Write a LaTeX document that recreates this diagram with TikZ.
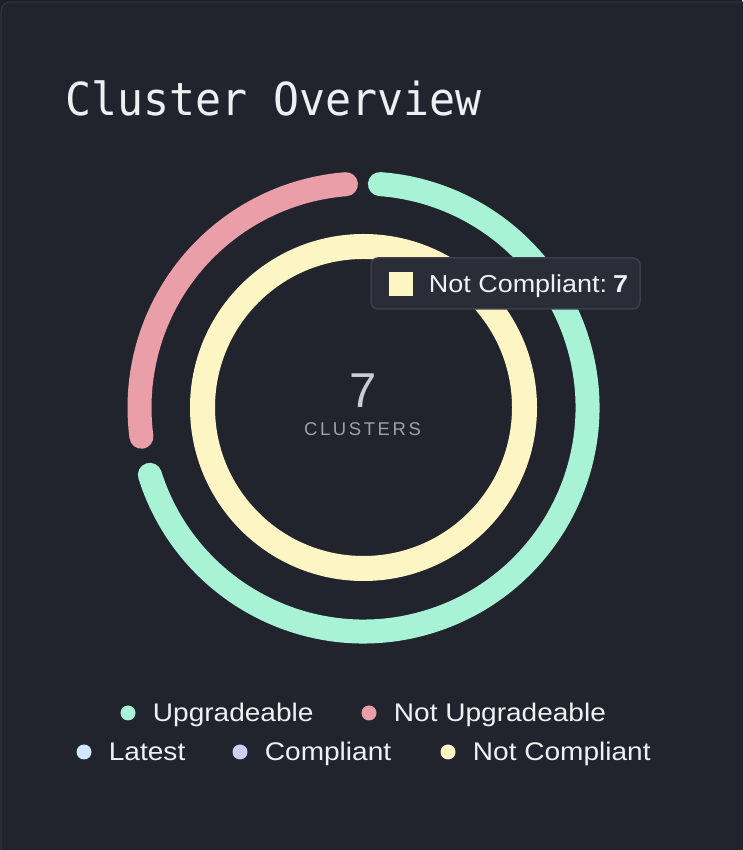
\documentclass[tikz,border=0pt]{standalone}
\usepackage{fontspec}
\setmainfont{Liberation Sans}
\newfontfamily\uifont[FakeStretch=1.1]{Liberation Sans}
\newfontfamily\titlefont[FakeStretch=0.95]{DejaVu Sans Mono}
\newfontfamily\capsfont[LetterSpace=14]{Liberation Sans}
\usepackage{xcolor}
\definecolor{clusterOuter}{HTML}{1C1F26}
\definecolor{clusterBg}{HTML}{21242D}
\definecolor{clusterEdge}{HTML}{31343E}
\definecolor{clusterTitle}{HTML}{EDF0F2}
\definecolor{clusterText}{HTML}{EEF0F4}
\definecolor{clusterNum}{HTML}{C9CBD9}
\definecolor{clusterSub}{HTML}{9C9FB0}
\definecolor{tipFill}{HTML}{2A2D37}
\definecolor{tipBorder}{HTML}{3C3F4A}
\definecolor{colUpgrade}{HTML}{A8F2D6}
\definecolor{colNoUpgrade}{HTML}{EA9EA8}
\definecolor{colLatest}{HTML}{CFE8FC}
\definecolor{colCompliant}{HTML}{CDCEF6}
\definecolor{colNotCompliant}{HTML}{FEF5C4}
\usetikzlibrary{positioning}
\tikzset{
    ring/.style={
        line width=24pt,
        line cap=round
    },
    innerring/.style={
        line width=25pt
    },
    legenddot/.style={
        circle,
        inner sep=0pt,
        minimum size=15pt
    },
    legendtext/.style={
        font=\uifont\fontsize{25.5}{30}\selectfont,
        text=clusterText,
        inner sep=0pt,
        text height=18pt,
        text depth=0pt
    },
    tipbox/.style={
        draw=tipBorder,
        fill=tipFill,
        line width=1.5pt,
        rounded corners=7pt,
        minimum width=269pt,
        minimum height=51pt
    }
}

\begin{document}
\begin{tikzpicture}[x=1pt,y=1pt]
    \useasboundingbox (0,0) rectangle (742,850);
    \fill[clusterOuter] (0,0) rectangle (742,850);

    % Card
    \draw[fill=clusterBg, draw=clusterEdge, line width=1.2pt, rounded corners=9pt]
        (1,-20) rectangle (770,848);

    % Title
    \node[anchor=base west, inner sep=0pt, text=clusterTitle,
        font=\titlefont\fontsize{45.5}{50}\selectfont] (title) at (65,734) {Cluster Overview};

    % Rings
    \coordinate (ctr) at (363.5,442.5);
    \draw[ring, draw=colUpgrade] ([shift={(197.5:224)}]ctr) arc[start angle=197.5, end angle=445.8, radius=224];
    \draw[ring, draw=colNoUpgrade] ([shift={(94.5:224)}]ctr) arc[start angle=94.5, end angle=187.5, radius=224];
    \draw[innerring, draw=colNotCompliant] (ctr) circle[radius=161];

    % Total in the middle
    \node[anchor=base, inner sep=0pt, text=clusterNum,
        font=\fontsize{49}{55}\selectfont] (total) at (363.5,442) {7};
    \node[anchor=base, inner sep=0pt, text=clusterSub,
        font=\capsfont\fontsize{18.5}{22}\selectfont] (totallabel) at (362.5,414) {CLUSTERS};

    % Tooltip
    \node[tipbox] (tip) at (505.5,566.5) {};
    \node[fill=colNotCompliant, inner sep=0pt, minimum size=24pt] (tipsq) at (400.5,566) {};
    \node[legendtext, font=\uifont\fontsize{24.5}{29}\selectfont, right=16pt of tipsq] (tiptext)
        {Not Compliant:\hspace{6pt}\textbf{7}};

    % Legend
    \node[legenddot, fill=colUpgrade] (dotUp) at (128,137) {};
    \node[legendtext, right=17pt of dotUp] (txtUp) {Upgradeable};
    \node[legenddot, fill=colNoUpgrade] (dotNoUp) at (369,137) {};
    \node[legendtext, right=17pt of dotNoUp] (txtNoUp) {Not Upgradeable};
    \node[legenddot, fill=colLatest] (dotLatest) at (84,98) {};
    \node[legendtext, right=17pt of dotLatest] (txtLatest) {Latest};
    \node[legenddot, fill=colCompliant] (dotComp) at (240,98) {};
    \node[legendtext, right=17pt of dotComp] (txtComp) {Compliant};
    \node[legenddot, fill=colNotCompliant] (dotNoComp) at (448,98) {};
    \node[legendtext, right=17pt of dotNoComp] (txtNoComp) {Not Compliant};
\end{tikzpicture}
\end{document}
